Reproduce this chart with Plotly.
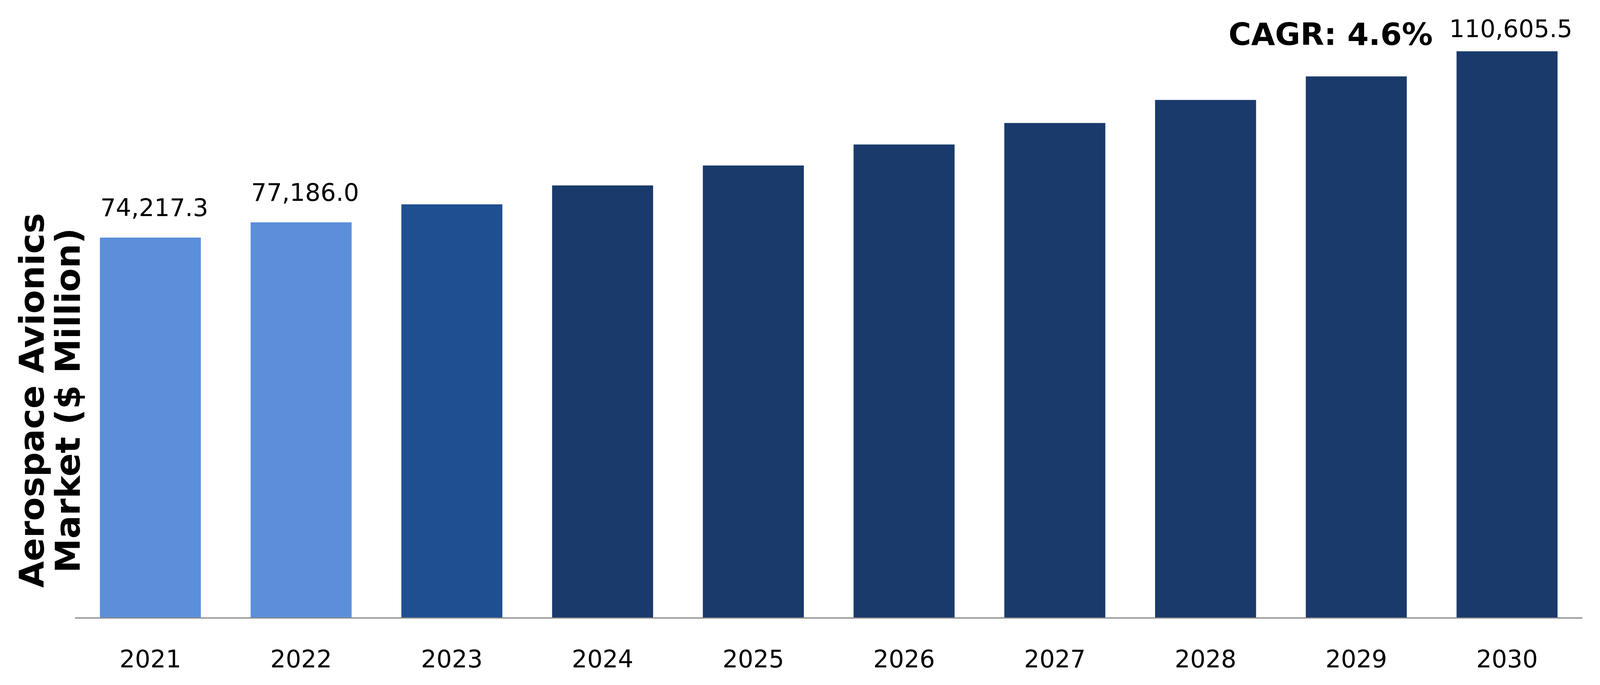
import plotly.graph_objects as go

# Marktdaten (Mio. $) je Jahr
years = ["2021", "2022", "2023", "2024", "2025", "2026", "2027", "2028", "2029", "2030"]
market_values = [74217.3, 77186.0, 80700, 84400, 88300, 92400, 96600, 101100, 105700, 110605.5]
bar_colors = ["#5B8FDA", "#5B8FDA", "#1F4F91", "#1A3A6C", "#1A3A6C",
              "#1A3A6C", "#1A3A6C", "#1A3A6C", "#1A3A6C", "#1A3A6C"]
labelled_years = ["2021", "2022", "2030"]
cagr_text = "CAGR: 4.6%"
y_title_lines = ["Aerospace Avionics", "Market ($ Million)"]

FONT = "Verdana, DejaVu Sans, sans-serif"

# Browserfenster ist effektiv nur 4096 px breit -> Figur auf das Fenster anpassen
W, H = 4080, 1735

fig = go.Figure()
fig.add_trace(go.Bar(
    x=years,
    y=market_values,
    marker=dict(color=bar_colors, line=dict(width=0)),
    hoverinfo="x+y",
))

# Datenbeschriftungen nur fuer ausgewaehlte Jahre
# (Kategorie-Index statt Jahreszahl, sonst wird "2021" als Position 2021 gelesen)
for i, (yr, val) in enumerate(zip(years, market_values)):
    if yr in labelled_years:
        fig.add_annotation(
            x=i, y=val, xref="x", yref="y",
            text=f"{val:,.1f}",
            showarrow=False,
            yanchor="bottom",
            xshift=10,
            yshift=19 if yr == "2030" else 38,
            font=dict(family=FONT, size=62, color="#000000"),
        )

# CAGR-Beschriftung
fig.add_annotation(
    x=0.833, y=1.008, xref="paper", yref="paper",
    text=f"<b>{cagr_text}</b>",
    showarrow=False,
    xanchor="center", yanchor="middle",
    font=dict(family=FONT, size=79, color="#000000"),
)

# Y-Achsentitel: zwei gedrehte Zeilen
for line, xpos in zip(y_title_lines, [-0.0287, -0.0049]):
    fig.add_annotation(
        x=xpos, y=0.375, xref="paper", yref="paper",
        text=f"<b>{line}</b>",
        textangle=-90,
        showarrow=False,
        xanchor="center", yanchor="middle",
        font=dict(family=FONT, size=88, color="#000000"),
    )

fig.update_layout(
    width=W,
    height=H,
    margin=dict(l=184, r=37, t=92, b=163),
    paper_bgcolor="white",
    plot_bgcolor="white",
    bargap=0.33,
    showlegend=False,
    xaxis=dict(
        type="category",
        range=[-0.5, len(years) - 0.5],
        showline=True,
        linecolor="#888888",
        linewidth=3,
        showgrid=False,
        ticks="",
        ticklabelstandoff=51,
        tickfont=dict(family=FONT, size=62, color="#000000"),
    ),
    yaxis=dict(
        range=[0, 113000],
        showgrid=False,
        showline=False,
        zeroline=False,
        showticklabels=False,
        ticks="",
    ),
)

fig.write_html("out.html")
